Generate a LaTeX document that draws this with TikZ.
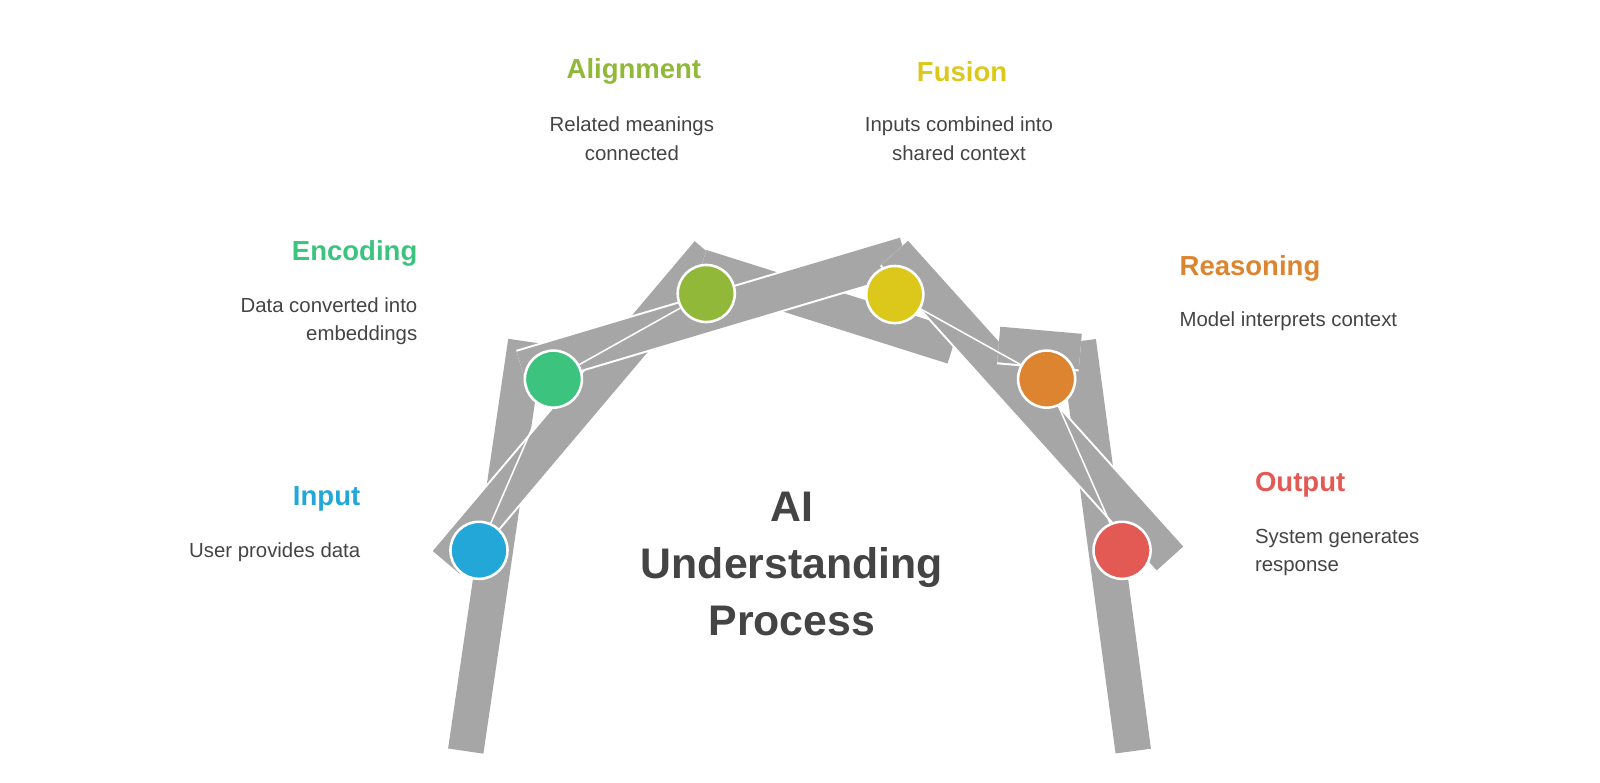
\documentclass[tikz,border=0pt]{standalone}
\usepackage{fontspec}
\setmainfont{Liberation Sans}
\definecolor{bar}{HTML}{A6A6A6}
\definecolor{cIn}{HTML}{22A7D8}
\definecolor{cEn}{HTML}{3CC47F}
\definecolor{cAl}{HTML}{92B83A}
\definecolor{cFu}{HTML}{DCC81A}
\definecolor{cRe}{HTML}{DC8430}
\definecolor{cOu}{HTML}{E35A54}
\definecolor{txt}{HTML}{444444}
\begin{document}
\begin{tikzpicture}[x=1pt,y=-1pt,
  barw/.style={line width=39pt,white},
  barg/.style={line width=35pt,bar},
  dot/.style={circle,minimum size=56pt,draw=white,line width=2.5pt,inner sep=0},
  link/.style={white,line width=1.5pt},
  ttl/.style={font=\bfseries\fontsize{27}{30}\selectfont},
  dsc/.style={font=\fontsize{20}{28}\selectfont,text=txt}]
\useasboundingbox (0,0) rectangle (1570,768.3);
% bars
\foreach \a/\b in {{(457,737)}/{(516,335)},{(1112,737)}/{(1058,335)},{(438,552)}/{(695,248)},{(688,262)}/{(935,340)},{(512,362)}/{(888,250)},{(878,248)}/{(1148,548)},{(980,338)}/{(1060,345)}}{
  \draw[barw] \a -- \b; \draw[barg] \a -- \b;}
\node[dot,fill=cIn] (in) at (470,540) {};
\node[dot,fill=cEn] (en) at (543,372) {};
\node[dot,fill=cAl] (al) at (693,288) {};
\node[dot,fill=cFu] (fu) at (878,289) {};
\node[dot,fill=cRe] (re) at (1027,372) {};
\node[dot,fill=cOu] (ou) at (1101,540) {};
\draw[link] (in) -- (en); \draw[link] (en) -- (al);
\draw[link] (fu) -- (re); \draw[link] (re) -- (ou);
% texts
\node[ttl,text=cAl] (tal) at (622,70) {Alignment};
\node[dsc,align=center] (dal) at (620,136) {Related meanings\\connected};
\node[ttl,text=cFu] (tfu) at (944,70) {Fusion};
\node[dsc,align=center] (dfu) at (941,136) {Inputs combined into\\shared context};
\node[ttl,text=cEn,anchor=east] (ten) at (413,249) {Encoding};
\node[dsc,align=right,anchor=east] (den) at (413,315) {Data converted into\\embeddings};
\node[ttl,text=cRe,anchor=west] (tre) at (1154,263) {Reasoning};
\node[dsc,anchor=west] (dre) at (1154,315) {Model interprets context};
\node[ttl,text=cIn,anchor=east] (tin) at (357,490) {Input};
\node[dsc,anchor=east] (din) at (357,542) {User provides data};
\node[ttl,text=cOu,anchor=west] (tou) at (1228,476) {Output};
\node[dsc,align=left,anchor=west] (dou) at (1228,542) {System generates\\response};
\node[font=\bfseries\fontsize{42}{56}\selectfont,text=txt,align=center] (mid) at (777,553) {AI\\Understanding\\Process};
\end{tikzpicture}
\end{document}
